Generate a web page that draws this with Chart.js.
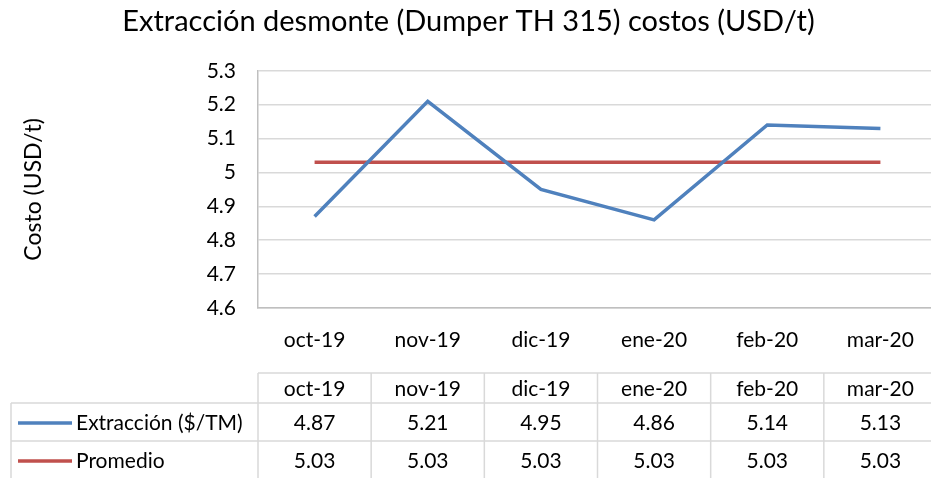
<!DOCTYPE html>
<html>
<head>
<meta charset="utf-8">
<script src="https://cdn.jsdelivr.net/npm/chart.js@4"></script>
<style>
  html, body { margin: 0; padding: 0; background: #fff; overflow: hidden; width: 931px; height: 478px; }
  #wrap { width: 937px; height: 478px; }
</style>
</head>
<body>
<div id="wrap"><canvas id="myChart" width="937" height="478"></canvas></div>
<script>
// datos
var meses = ["oct-19", "nov-19", "dic-19", "ene-20", "feb-20", "mar-20"];
var extraccion = [4.87, 5.21, 4.95, 4.86, 5.14, 5.13];
var promedio = [5.03, 5.03, 5.03, 5.03, 5.03, 5.03];
var nombres = ["Extracción ($/TM)", "Promedio"];
var colores = ["#4f81bd", "#c0504d"];

var fuente = "Lato, 'Open Sans', sans-serif";

// tabla de datos debajo del eje x
const tablaDatos = {
    id: 'tablaDatos',
    afterDraw(chart) {
        const ctx = chart.ctx;
        const x = chart.scales.x;
        const area = chart.chartArea;
        const paso = x.getPixelForValue(1) - x.getPixelForValue(0);
        const izq = area.left;
        const der = x.getPixelForValue(meses.length - 1) + paso / 2;
        const filas = [373, 403, 441, 479];
        ctx.save();
        ctx.strokeStyle = "#d9d9d9";
        ctx.lineWidth = 1.5;
        ctx.beginPath();
        ctx.moveTo(izq, filas[0]); ctx.lineTo(der, filas[0]);
        ctx.moveTo(11, filas[1]); ctx.lineTo(der, filas[1]);
        ctx.moveTo(11, filas[2]); ctx.lineTo(der, filas[2]);
        ctx.moveTo(11, filas[3]); ctx.lineTo(der, filas[3]);
        ctx.moveTo(11, filas[1]); ctx.lineTo(11, filas[3]);
        for (let i = 0; i <= meses.length; i++) {
            const px = izq + i * paso;
            ctx.moveTo(px, filas[0]); ctx.lineTo(px, filas[3]);
        }
        ctx.stroke();

        ctx.fillStyle = "#000";
        ctx.font = "21px " + fuente;
        ctx.textAlign = "center";
        ctx.textBaseline = "middle";
        const series = [extraccion, promedio];
        meses.forEach((m, i) => {
            const cx = x.getPixelForValue(i);
            ctx.fillText(m, cx, (filas[0] + filas[1]) / 2 + 1);
            series.forEach((s, j) => {
                ctx.fillText(s[i].toFixed(2), cx, (filas[j + 1] + filas[j + 2]) / 2 + 1);
            });
        });

        // leyenda en la tabla
        ctx.textAlign = "left";
        nombres.forEach((n, j) => {
            const cy = (filas[j + 1] + filas[j + 2]) / 2 + 1;
            ctx.strokeStyle = colores[j];
            ctx.lineWidth = 3.5;
            ctx.beginPath();
            ctx.moveTo(18, cy); ctx.lineTo(72, cy);
            ctx.stroke();
            ctx.fillText(n, 76, cy);
        });
        ctx.restore();
    }
};

const ctx = document.getElementById('myChart');

var myLineChart = new Chart(ctx, {
    type: 'line',
    data: {
        labels: meses,
        datasets: [{
            label: nombres[0],
            data: extraccion,
            borderColor: colores[0],
            borderWidth: 3.5,
            pointRadius: 0,
            tension: 0
        }, {
            label: nombres[1],
            data: promedio,
            borderColor: colores[1],
            borderWidth: 3.5,
            pointRadius: 0,
            tension: 0
        }]
    },
    plugins: [tablaDatos],
    options: {
        responsive: false,
        animation: false,
        layout: { padding: { left: 0, right: 0, top: 0, bottom: 0 } },
        plugins: {
            legend: { display: false },
            tooltip: { enabled: false },
            title: {
                display: true,
                text: "Extracción desmonte (Dumper TH 315) costos (USD/t)",
                color: "#000",
                font: { family: fuente, size: 29, weight: 'normal' },
                padding: { top: 4, bottom: 32 }
            }
        },
        scales: {
            x: {
                offset: true,
                grid: { display: false, drawTicks: false },
                border: { color: "#bfbfbf", width: 1.5 },
                ticks: { color: "#000", font: { family: fuente, size: 21 }, padding: 20, maxRotation: 0 },
                afterFit(scale) { scale.height = 170; }
            },
            y: {
                min: 4.6,
                max: 5.3,
                ticks: {
                    stepSize: 0.1,
                    color: "#000",
                    font: { family: fuente, size: 21 },
                    padding: 22,
                    callback: v => String(Number(v.toFixed(1)))
                },
                grid: { color: "#d9d9d9", lineWidth: 1.5, drawTicks: false },
                border: { color: "#bfbfbf", width: 1.5 },
                title: {
                    display: true,
                    text: "Costo (USD/t)",
                    color: "#000",
                    font: { family: fuente, size: 23 },
                    padding: { top: 20, bottom: 0 }
                },
                afterFit(scale) { scale.width = 258; }
            }
        }
    }
});
</script>
</body>
</html>
